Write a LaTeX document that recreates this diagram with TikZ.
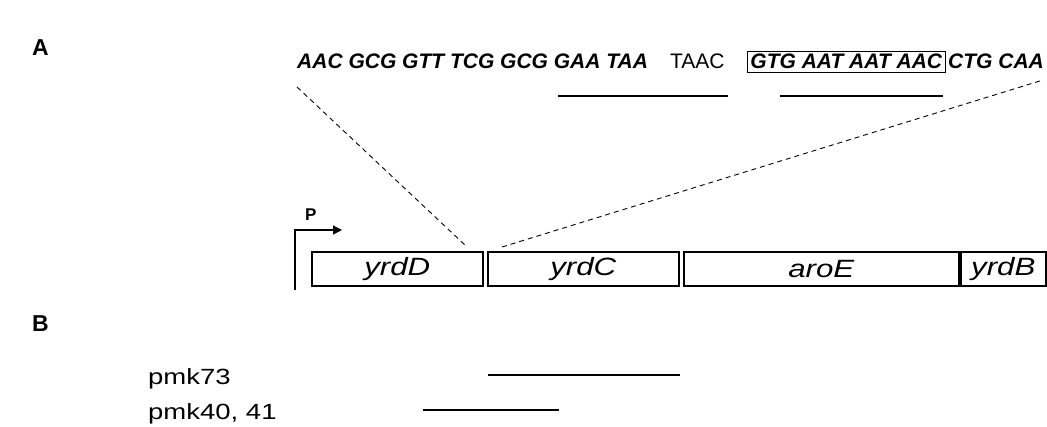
\documentclass[tikz,border=0pt]{standalone}
\usepackage{fontspec}
\setmainfont{Liberation Sans}
\newfontfamily\widefont[FakeStretch=1.25]{Liberation Sans}
\usetikzlibrary{arrows.meta}
\begin{document}
\begin{tikzpicture}[x=1pt,y=1pt,
  seq/.style={anchor=base west,inner sep=0pt,font=\fontsize{21}{24}\selectfont\bfseries\itshape},
  plainseq/.style={anchor=base west,inner sep=0pt,font=\fontsize{21}{24}\selectfont},
  gene/.style={draw,line width=1.6pt,minimum height=34pt,inner sep=0pt,anchor=south west,font=\widefont\fontsize{25}{26}\selectfont\itshape},
  uline/.style={line width=2.2pt},
  zoomline/.style={dashed,dash pattern=on 5pt off 4pt,line width=0.9pt},
  panel/.style={anchor=base west,inner sep=0pt,font=\fontsize{23}{24}\selectfont\bfseries},
  plas/.style={anchor=base west,inner sep=0pt,font=\widefont\fontsize{22}{24}\selectfont},
  frag/.style={line width=2pt}]
\useasboundingbox (0,0) rectangle (1047,-427);
% panel labels
\node[panel] (labA) at (32,-56) {A};
\node[panel] (labB) at (32,-332) {B};
% sequence
\node[seq] (s1) at (297,-69) {AAC GCG GTT TCG GCG GAA TAA};
\node[plainseq] (s2) at (670,-69) {TAAC};
\node[seq,draw,line width=0.9pt,inner xsep=3pt,inner ysep=3pt] (s3) at (747,-69) {GTG AAT AAT AAC};
\node[seq] (s4) at (948,-69) {CTG CAA};
% underlines
\coordinate (u1a) at (558,-96); \coordinate (u1b) at (728,-96);
\coordinate (u2a) at (780,-96); \coordinate (u2b) at (943,-96);
\draw[uline] (u1a) -- (u1b);
\draw[uline] (u2a) -- (u2b);
% genes
\node[gene,minimum width=171pt] (yrdD) at (311,-287) {yrdD\hspace{22pt}};
\node[gene,minimum width=191pt] (yrdC) at (487,-287) {yrdC\hspace{14pt}};
\node[gene,minimum width=275pt] (aroE) at (683,-287) {aroE};
\node[gene,minimum width=85pt] (yrdB) at (960,-287) {yrdB};
% zoom lines
\coordinate (z1a) at (297,-87); \coordinate (z1b) at (466,-246);
\coordinate (z2a) at (502,-247); \coordinate (z2b) at (1043,-80);
\draw[zoomline] (z1a) -- (z1b);
\draw[zoomline] (z2a) -- (z2b);
% promoter
\coordinate (p0) at (295,-290); \coordinate (p1) at (295,-230); \coordinate (p2) at (342,-230);
\draw[line width=1.3pt,-{Triangle[length=9pt,width=9pt]}] (p0) -- (p1) -- (p2);
\node[anchor=base west,inner sep=0pt,font=\fontsize{17}{18}\selectfont\bfseries] (P) at (305,-221) {P};
% panel B
\node[plas] (pm73) at (148,-385) {pmk73};
\node[plas] (pm40) at (148,-420) {pmk40, 41};
\coordinate (f1a) at (488,-375); \coordinate (f1b) at (680,-375);
\coordinate (f2a) at (423,-410); \coordinate (f2b) at (559,-410);
\draw[frag] (f1a) -- (f1b);
\draw[frag] (f2a) -- (f2b);
\end{tikzpicture}
\end{document}
